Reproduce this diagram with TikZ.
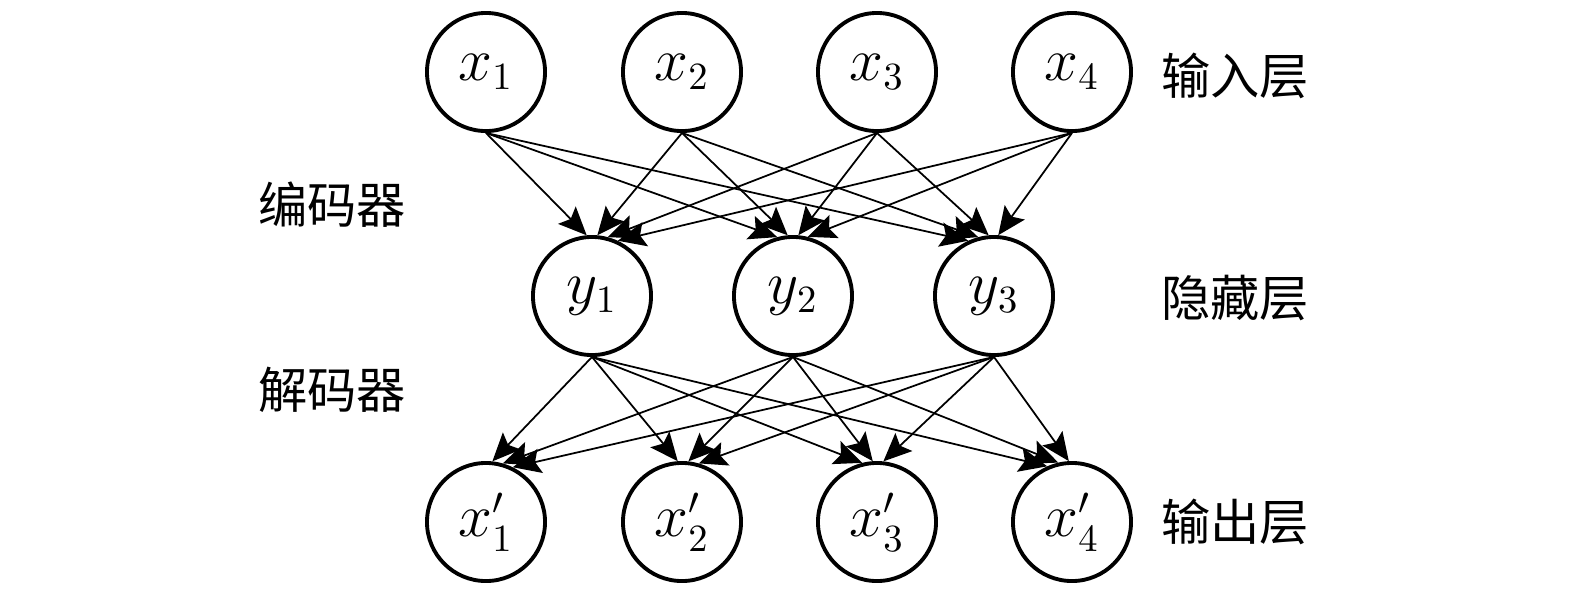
\documentclass[tikz,border=0pt]{standalone}
\usepackage{fontspec}
\newfontfamily\cjk{Noto Sans CJK SC}
\usetikzlibrary{arrows.meta}
\tikzset{
  unit/.style={draw, circle, line width=1.1pt, minimum size=1.18cm, inner sep=0pt,
               font=\fontsize{16}{18}\selectfont},
  link/.style={-{Stealth[length=8pt,width=7pt,inset=1.5pt]}, line width=0.5pt},
  tag/.style={font=\cjk\fontsize{14}{16}\selectfont},
}
\begin{document}
\begin{tikzpicture}[x=0.01cm, y=-0.01cm]
      \useasboundingbox (0,0) rectangle (1575,593);
      % input layer
      \node[unit] (x1) at ( 486, 72) {$x_1$};
      \node[unit] (x2) at ( 682, 72) {$x_2$};
      \node[unit] (x3) at ( 877, 72) {$x_3$};
      \node[unit] (x4) at (1072, 72) {$x_4$};
      % hidden layer
      \node[unit] (y1) at ( 592,296) {$y_1$};
      \node[unit] (y2) at ( 793,296) {$y_2$};
      \node[unit] (y3) at ( 994,296) {$y_3$};
      % output layer
      \node[unit] (z1) at ( 486,522) {$x'_1$};
      \node[unit] (z2) at ( 682,522) {$x'_2$};
      \node[unit] (z3) at ( 877,522) {$x'_3$};
      \node[unit] (z4) at (1072,522) {$x'_4$};
      % labels
      \node[tag] (lin)  at (1235, 76) {输入层};
      \node[tag] (lhid) at (1235,298) {隐藏层};
      \node[tag] (lout) at (1235,522) {输出层};
      \node[tag] (lenc) at ( 332,205) {编码器};
      \node[tag] (ldec) at ( 332,390) {解码器};
      % connections, each ending near the top of its target
      \foreach \i/\xs in {1/486,2/682,3/877,4/1072}
        \foreach \j/\xt in {1/592,2/793,3/994}{
          \pgfmathsetmacro\ang{90+0.05*(\xt-\xs)}
          \draw[link] (x\i.south) -- (y\j.\ang);
        }
      \foreach \j/\xs in {1/592,2/793,3/994}
        \foreach \i/\xt in {1/486,2/682,3/877,4/1072}{
          \pgfmathsetmacro\ang{90+0.05*(\xt-\xs)}
          \draw[link] (y\j.south) -- (z\i.\ang);
        }
\end{tikzpicture}
\end{document}
